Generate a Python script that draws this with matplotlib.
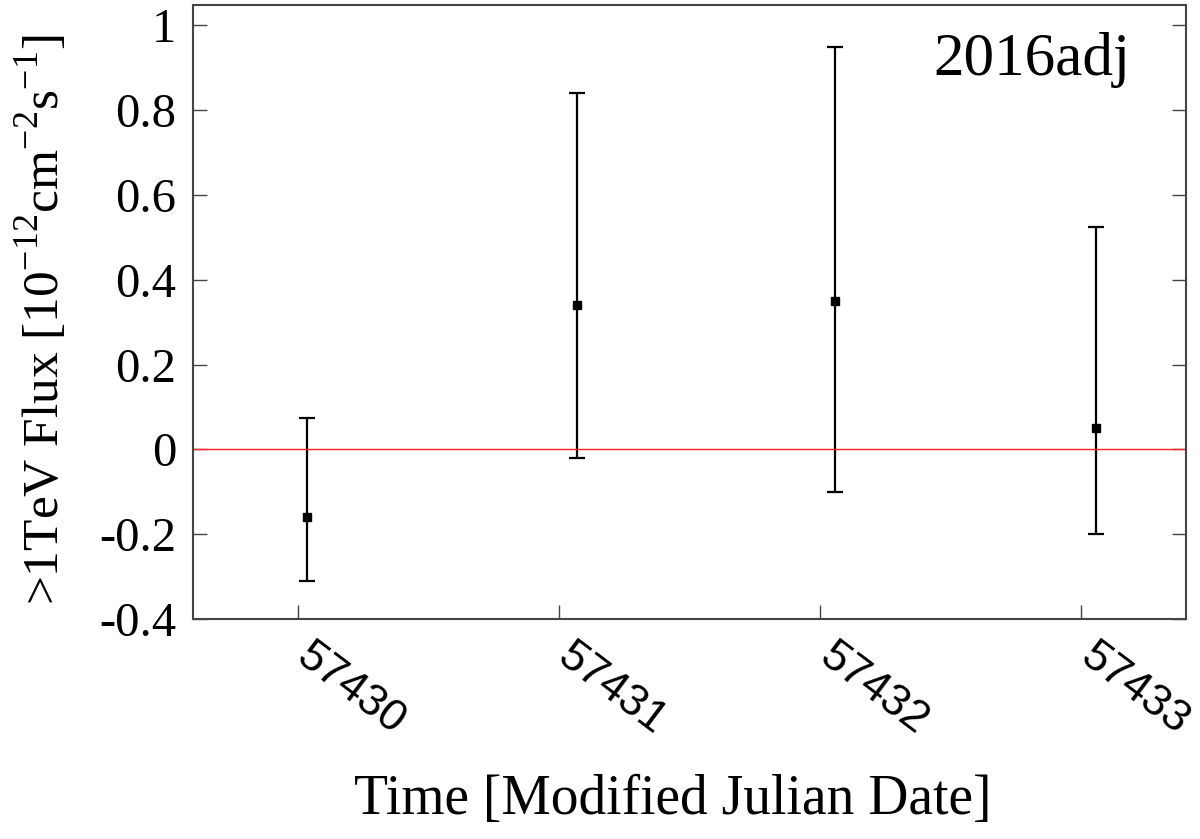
import numpy as np
import matplotlib
matplotlib.use('Agg')
import matplotlib.pyplot as plt
import matplotlib.transforms as mtransforms

# light curve values
mjd = [57430.035, 57431.07, 57432.055, 57433.055]
flux = [-0.16, 0.34, 0.35, 0.05]
flux_hi = [0.075, 0.84, 0.95, 0.525]
flux_lo = [-0.31, -0.02, -0.10, -0.20]
xticks = [57430, 57431, 57432, 57433]
yticks = [-0.4, -0.2, 0, 0.2, 0.4, 0.6, 0.8, 1]
ytick_labels = ['-0.4', '-0.2', '0', '0.2', '0.4', '0.6', '0.8', '1']

plt.rcParams['font.family'] = ['Liberation Serif', 'DejaVu Serif']
plt.rcParams['mathtext.fontset'] = 'custom'
plt.rcParams['mathtext.rm'] = 'Liberation Serif'

fig = plt.figure(figsize=(12, 8.39), dpi=100)
ax = fig.add_axes([193/1200, 1-619/839, (1186-193)/1200, (619-5)/839])

flux = np.array(flux)
err = [flux - np.array(flux_lo), np.array(flux_hi) - flux]
ax.errorbar(mjd, flux, yerr=err, fmt='s', color='black', ms=6,
            elinewidth=1.6, capsize=6, capthick=1.6)
ax.axhline(0, color='#ff2020', lw=1)

ax.set_xlim(57429.6, 57433.4)
ax.set_ylim(-0.4, 1.048)
ax.set_xticks(xticks)
ax.set_xticklabels([])
# rotated tick labels, drawn by hand so they can start right at the tick
offset = mtransforms.ScaledTranslation(16/100, -16/100, fig.dpi_scale_trans)
for t in xticks:
    ax.text(t, 0, str(t), transform=ax.get_xaxis_transform() + offset,
            rotation=-37, ha='left', va='top', rotation_mode='anchor',
            fontsize=32, family='Liberation Sans')
ax.set_yticks(yticks)
ax.set_yticklabels(ytick_labels, fontsize=35)
ax.tick_params(axis='both', direction='in', length=10, width=1, color='#444444')
ax.tick_params(axis='y', right=True, pad=12)
for s in ax.spines.values():
    s.set_color('#444444')
    s.set_linewidth(1.5)

ax.set_xlabel('Time [Modified Julian Date]', fontsize=40)
ax.xaxis.set_label_coords(0.483, -0.295)
ax.xaxis.label.set_va('center')
ax.set_ylabel(r'>1TeV Flux [10$^{-12}$cm$^{-2}$s$^{-1}$]', fontsize=37)
ax.yaxis.set_label_coords(-0.152, 0.487)
ax.yaxis.label.set_va('center')
ax.text(0.944, 0.886, '2016adj', transform=ax.transAxes, ha='right',
        va='baseline', fontsize=44)

plt.savefig('out.png', dpi=100)
